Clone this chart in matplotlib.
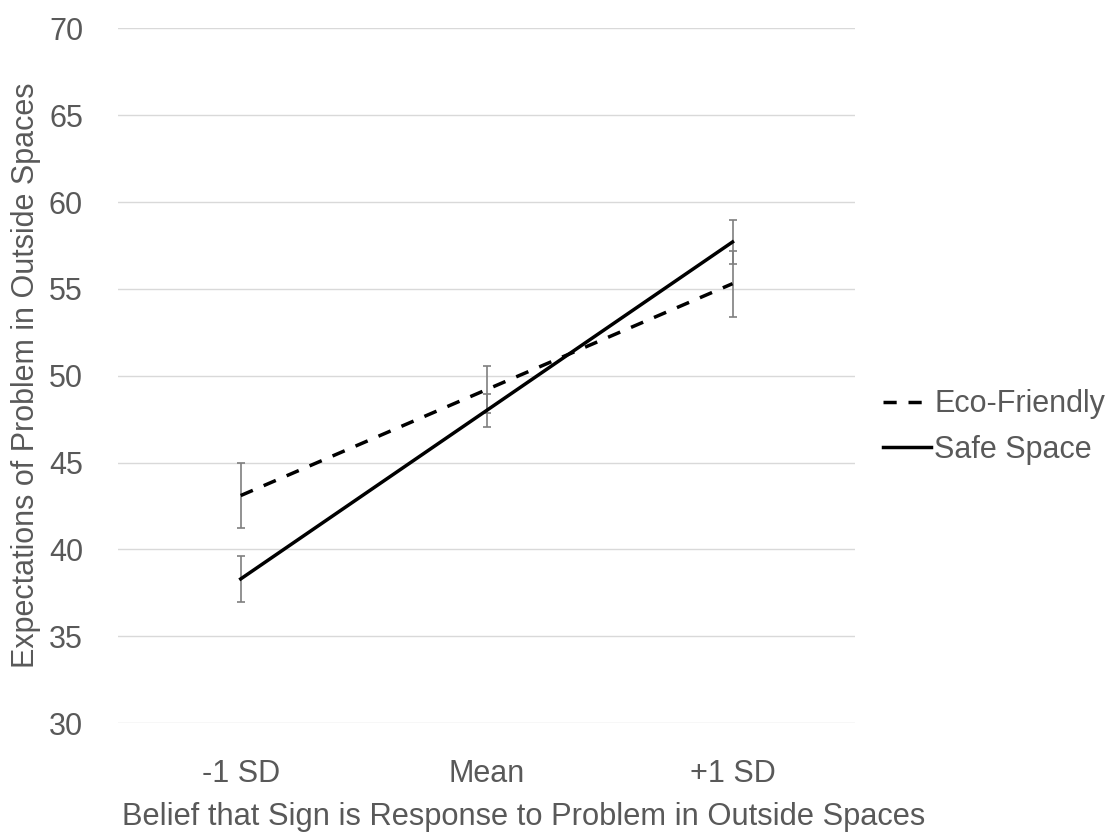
import matplotlib.pyplot as plt

# data
categories = ['-1 SD', 'Mean', '+1 SD']
eco_values = [43.1, 49.2, 55.3]
eco_errors = [1.85, 1.34, 1.9]
safe_values = [38.3, 48.0, 57.7]
safe_errors = [1.32, 0.93, 1.25]
y_ticks = [30, 35, 40, 45, 50, 55, 60, 65, 70]

text_color = '#595959'
plt.rcParams['font.family'] = ['Liberation Sans', 'DejaVu Sans']

fig = plt.figure(figsize=(11.11, 8.34), dpi=100)
ax = fig.add_axes([0.106, 0.133, 0.664, 0.833])

x = list(range(len(categories)))

ax.errorbar(x, eco_values, yerr=eco_errors, fmt='none', ecolor='#7f7f7f',
            elinewidth=1.2, capsize=3, capthick=1.2, zorder=2)
ax.errorbar(x, safe_values, yerr=safe_errors, fmt='none', ecolor='#7f7f7f',
            elinewidth=1.2, capsize=3, capthick=1.2, zorder=2)
ax.plot(x, eco_values, color='black', lw=2.5, dashes=(3.8, 3.4),
        label='Eco-Friendly', zorder=3)
ax.plot(x, safe_values, color='black', lw=2.5, label='Safe Space', zorder=3)

ax.set_xlim(-0.5, 2.5)
ax.set_ylim(30, 70)
ax.set_yticks(y_ticks)
ax.set_xticks(x)
ax.set_xticklabels(categories)
ax.grid(axis='y', color='#d9d9d9', lw=1)
ax.set_axisbelow(True)
for s in ax.spines.values():
    s.set_visible(False)
ax.tick_params(axis='y', length=0, labelsize=22, labelcolor=text_color, pad=25)
ax.tick_params(axis='x', length=0, labelsize=22, labelcolor=text_color, pad=26)

ax.set_xlabel('Belief that Sign is Response to Problem in Outside Spaces',
              fontsize=22.2, color=text_color, labelpad=9, x=0.55)
ax.set_ylabel('Expectations of Problem in Outside Spaces',
              fontsize=22, color=text_color, labelpad=6)

ax.legend(loc='center left', bbox_to_anchor=(0.795, 0.488),
          bbox_transform=fig.transFigure, frameon=False, borderpad=0,
          borderaxespad=0, fontsize=22, labelcolor=text_color,
          handlelength=1.55, handletextpad=0.12, labelspacing=0.5)

fig.savefig('out.png', dpi=100)
